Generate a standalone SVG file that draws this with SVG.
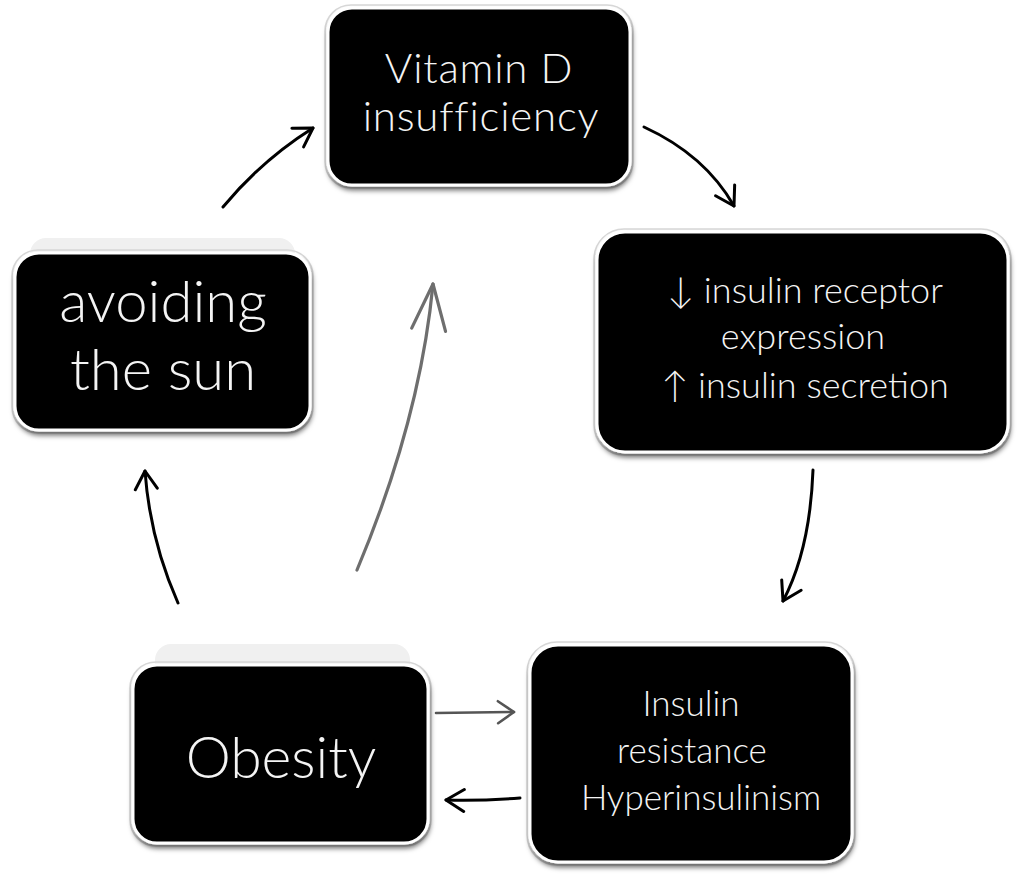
<svg xmlns="http://www.w3.org/2000/svg" width="1024" height="886" viewBox="0 0 1024 886">
<defs>
<filter id="sh" x="-10%" y="-10%" width="120%" height="130%">
<feDropShadow dx="1" dy="4" stdDeviation="2.5" flood-color="#000" flood-opacity="0.55"/>
</filter>
<marker id="ah" markerWidth="22" markerHeight="26" viewBox="0 0 22 26" refX="20" refY="13" orient="auto" markerUnits="userSpaceOnUse">
<path d="M2,2 L20,13 L2,24" fill="none" stroke="#000" stroke-width="3" stroke-linecap="round" stroke-linejoin="round"/>
</marker>
<marker id="ahg" markerWidth="52" markerHeight="42" viewBox="0 0 52 42" refX="49" refY="21" orient="auto" markerUnits="userSpaceOnUse">
<path d="M3,4 L49,21 L3,38" fill="none" stroke="#6e6e6e" stroke-width="3.2" stroke-linecap="round" stroke-linejoin="round"/>
</marker>
<marker id="ahg2" markerWidth="20" markerHeight="26" viewBox="0 0 20 26" refX="18" refY="13" orient="auto" markerUnits="userSpaceOnUse">
<path d="M2,2 L18,13 L2,24" fill="none" stroke="#555" stroke-width="2.6" stroke-linecap="round" stroke-linejoin="round"/>
</marker>
</defs>
<style>
.box{fill:#000;stroke:#fff;stroke-width:3;filter:url(#sh)}
.outer{fill:none;stroke:#d8d8d8;stroke-width:1.5}
.band{fill:#f0f0f0}
text{font-family:Lato,"Open Sans","Liberation Sans",sans-serif;fill:#f4f4f4;text-anchor:middle;font-weight:300}
.c{fill:none;stroke:#000;stroke-width:3;stroke-linecap:round}
.g{fill:none;stroke:#6e6e6e;stroke-width:3.2;stroke-linecap:round}
</style>
<rect width="1024" height="886" fill="#fff"/>
<rect class="band" x="30" y="238" width="265" height="40" rx="16"/>
<rect class="band" x="155" y="644" width="255" height="40" rx="16"/>

<g id="connectors">
<path class="c" d="M223,207 Q262,160 313,128" marker-end="url(#ah)"/>
<path class="c" d="M644,127 Q705,155 734,206" marker-end="url(#ah)"/>
<path class="c" d="M813,470 Q810,550 783,601" marker-end="url(#ah)"/>
<path class="c" d="M178,603 Q150,540 145,471" marker-end="url(#ah)"/>
<path class="g" d="M357,570 Q420,420 433,284" marker-end="url(#ahg)"/>
<path d="M436,713 L514,712" fill="none" stroke="#555" stroke-width="2.6" stroke-linecap="round" marker-end="url(#ahg2)"/>
<path class="c" d="M520,798 Q480,801 446,800" marker-end="url(#ah)"/>
</g>

<g id="vitd">
<rect class="outer" x="325" y="5" width="308" height="183" rx="26"/>
<rect class="box" x="328" y="8" width="302" height="177" rx="24"/>
<text x="479" y="83" font-size="42" letter-spacing="0.8">Vitamin D</text>
<text x="481" y="131" font-size="42" letter-spacing="0.8">insufficiency</text>
</g>

<g id="receptor">
<rect class="outer" x="594" y="229" width="417" height="226" rx="30"/>
<rect class="box" x="597" y="232" width="411" height="220" rx="28"/>
<text x="805" y="303" font-size="36">↓ insulin receptor</text>
<text x="803" y="349" font-size="36">expression</text>
<text x="805" y="398" font-size="36">↑ insulin secretion</text>
</g>

<g id="resistance">
<rect class="outer" x="527" y="642" width="328" height="223" rx="30"/>
<rect class="box" x="530" y="645" width="322" height="217" rx="28"/>
<text x="691" y="716" font-size="35">Insulin</text>
<text x="692" y="763" font-size="35">resistance</text>
<text x="701" y="810" font-size="35">Hyperinsulinism</text>
</g>

<g id="obesity">
<rect class="outer" x="130" y="662" width="301" height="184" rx="26"/>
<rect class="box" x="133" y="665" width="295" height="178" rx="24"/>
<text x="281" y="778" font-size="57">Obesity</text>
</g>

<g id="sun">
<rect class="outer" x="12" y="250" width="301" height="183" rx="26"/>
<rect class="box" x="15" y="253" width="295" height="177" rx="24"/>
<text x="163" y="322" font-size="58">avoiding</text>
<text x="163" y="390" font-size="58">the sun</text>
</g>
</svg>
